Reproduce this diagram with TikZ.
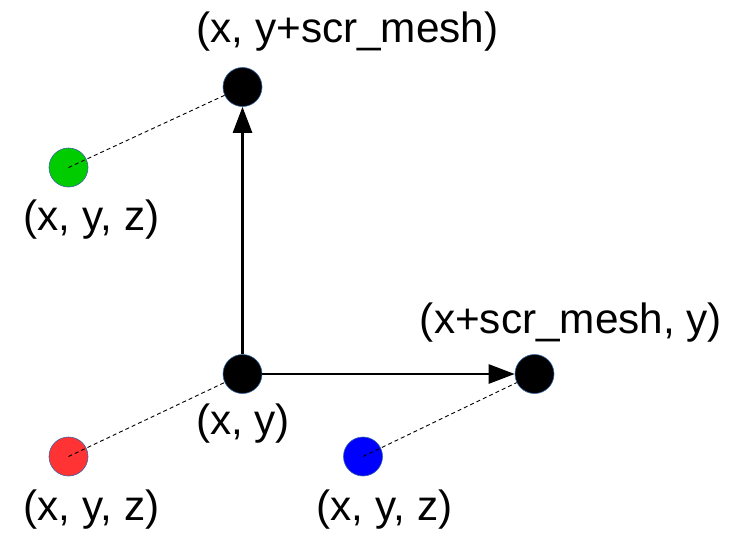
\documentclass[tikz,border=0pt]{standalone}
\usepackage{fontspec}
\setmainfont{Liberation Sans}
\usetikzlibrary{arrows.meta}
\definecolor{rim}{HTML}{3465A4}
\definecolor{ptgreen}{HTML}{00CC00}
\definecolor{ptred}{HTML}{FF3333}
\definecolor{ptblue}{HTML}{0000FF}
\begin{document}
\begin{tikzpicture}[x=1pt,y=-1pt,
  dot/.style={circle,draw=rim,line width=0.6pt,minimum size=39pt,inner sep=0pt},
  lbl/.style={inner sep=0pt,font=\fontsize{42.3}{50}\selectfont},
  link/.style={dashed,line width=0.9pt,dash pattern=on 4pt off 3pt},
  axis/.style={line width=2.6pt,-{Triangle[length=26pt,width=19pt]}}]
\useasboundingbox[fill=white] (0,0) rectangle (741,536);
\node[dot,fill=black] (top) at (242.5,87) {};
\node[dot,fill=black] (mid) at (242.5,374) {};
\node[dot,fill=black] (right) at (534.5,374) {};
\node[dot,fill=ptgreen] (g) at (68.5,167.5) {};
\node[dot,fill=ptred] (r) at (68.5,456.5) {};
\node[dot,fill=ptblue] (b) at (363,456.5) {};
\draw[axis] (mid) -- (top);
\draw[axis] (mid) -- (right);
\draw[link] (g.center) -- (top);
\draw[link] (r.center) -- (mid);
\draw[link] (b.center) -- (right);
\node[lbl] (ltop) at (347.5,32) {(x, y+scr\_mesh)};
\node[lbl] (lg) at (91.5,220) {(x, y, z)};
\node[lbl] (lright) at (571,323) {(x+scr\_mesh, y)};
\node[lbl] (lmid) at (243,424) {(x, y)};
\node[lbl] (lr) at (91.5,510) {(x, y, z)};
\node[lbl] (lb) at (384.5,510) {(x, y, z)};
\end{tikzpicture}
\end{document}
